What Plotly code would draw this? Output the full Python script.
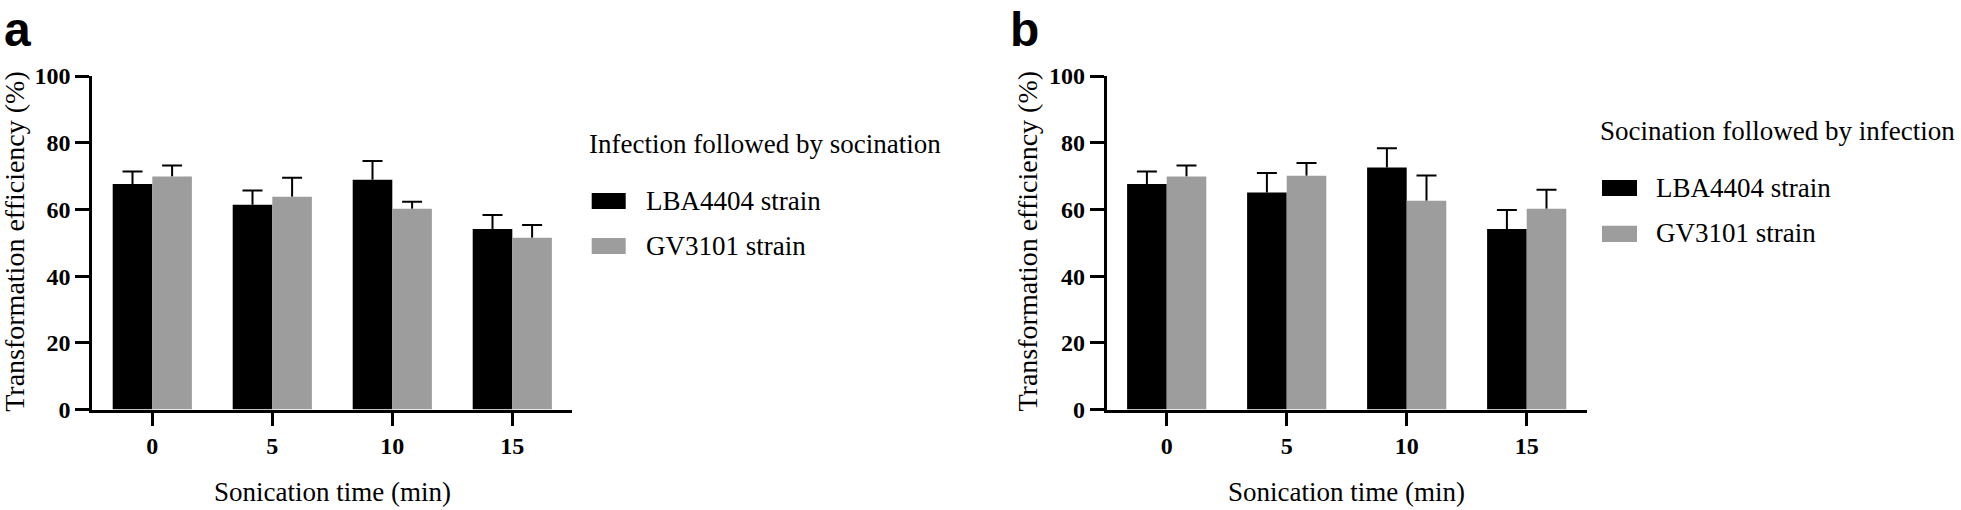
import plotly.graph_objects as go

W, H = 1961, 510

# ---------------- data ----------------
categories = ["0", "5", "10", "15"]
series_names = ["LBA4404 strain", "GV3101 strain"]

a_lba = [67.6, 61.4, 68.9, 54.1]
a_lba_err = [3.8, 4.3, 5.6, 4.2]
a_gv = [69.9, 63.8, 60.2, 51.5]
a_gv_err = [3.3, 5.7, 2.1, 3.8]

b_lba = [67.6, 65.1, 72.6, 54.1]
b_lba_err = [3.8, 5.8, 5.7, 5.7]
b_gv = [69.9, 70.1, 62.6, 60.2]
b_gv_err = [3.3, 3.8, 7.6, 5.7]

y_ticks = [0, 20, 40, 60, 80, 100]

legend_titles = ["Infection followed by socination", "Socination followed by infection"]
panel_labels = ["a", "b"]
x_title = "Sonication time (min)"
y_title = "Transformation efficiency (%)"
colors = ["#000000", "#9d9d9d"]

# ---------------- layout helpers (pixel -> paper) ----------------
def px(x):
    return x / W

def py(y):
    return 1 - y / H

SERIF = "Liberation Serif"
SANS = "Liberation Sans"

panels = [
    dict(xa="x", ya="y", data=[(a_lba, a_lba_err), (a_gv, a_gv_err)],
         x0=92.3, x1=572.3, ytitle_x=14.3, label_x=1.5, label_top=0.5,
         leg=dict(title_x=587, title_y=144, sw_x0=591.7, sw_x1=625.7,
                  sw_y=[(193, 209), (238, 254)], txt_x=644, txt_y=[200.7, 246])),
    dict(xa="x2", ya="y2", data=[(b_lba, b_lba_err), (b_gv, b_gv_err)],
         x0=1106.7, x1=1586.7, ytitle_x=1027, label_x=1007.5, label_top=0.5,
         leg=dict(title_x=1598, title_y=130.7, sw_x0=1602, sw_x1=1637,
                  sw_y=[(180, 196), (225.7, 242)], txt_x=1654, txt_y=[187.7, 233])),
]

fig = go.Figure()

for p in panels:
    for s, (vals, errs) in enumerate(p["data"]):
        # vertical error line (no caps), starting at the bar top
        fig.add_trace(go.Bar(
            x=categories, y=vals, xaxis=p["xa"], yaxis=p["ya"],
            offsetgroup=str(s), marker=dict(color="rgba(0,0,0,0)", line=dict(width=0)),
            error_y=dict(type="data", array=errs, arrayminus=[0] * len(errs), symmetric=False,
                         color="black", thickness=2, width=0),
            hoverinfo="skip", showlegend=False,
        ))
        # cap at the top of the error bar
        tops = [v + e for v, e in zip(vals, errs)]
        fig.add_trace(go.Bar(
            x=categories, y=tops, xaxis=p["xa"], yaxis=p["ya"],
            offsetgroup=str(s), marker=dict(color="rgba(0,0,0,0)", line=dict(width=0)),
            error_y=dict(type="data", array=[0] * len(errs), symmetric=True,
                         color="black", thickness=2, width=10),
            hoverinfo="skip", showlegend=False,
        ))
    for s, (vals, errs) in enumerate(p["data"]):
        fig.add_trace(go.Bar(
            x=categories, y=vals, xaxis=p["xa"], yaxis=p["ya"], name=series_names[s],
            offsetgroup=str(s), marker=dict(color=colors[s], line=dict(width=0)),
            showlegend=False,
        ))

y_dom = [py(409.5), py(76)]
tickfont = dict(family=SERIF, size=24, color="black", weight="bold")

axis_common = dict(showline=True, linecolor="black", linewidth=3, ticks="outside",
                   tickwidth=3, tickcolor="black", tickfont=tickfont,
                   showgrid=False, zeroline=False, fixedrange=True, automargin=False)

layout = dict(
    width=W, height=H, autosize=False,
    margin=dict(l=0, r=0, t=0, b=0, pad=0, autoexpand=False),
    paper_bgcolor="white", plot_bgcolor="white",
    barmode="group", bargap=0.34, bargroupgap=0, showlegend=False,
    font=dict(family=SERIF, color="black"),
)
for i, p in enumerate(panels):
    sfx = "" if i == 0 else str(i + 1)
    layout["xaxis" + sfx] = dict(axis_common, type="category", categoryorder="array",
                                 categoryarray=categories, range=[-0.5, 3.5],
                                 domain=[px(p["x0"]), px(p["x1"])], anchor=p["ya"],
                                 ticklen=13)
    layout["yaxis" + sfx] = dict(axis_common, range=[0, 100], tickvals=y_ticks,
                                 domain=y_dom, anchor=p["xa"], ticklen=14)

fig.update_layout(**layout)

annotations = []
shapes = []
for i, p in enumerate(panels):
    # panel label
    annotations.append(dict(text=panel_labels[i], x=px(p["label_x"]), y=py(p["label_top"]),
                            xref="paper", yref="paper", xanchor="left", yanchor="top",
                            showarrow=False, font=dict(family=SANS, size=48, color="black", weight="bold")))
    # y title
    annotations.append(dict(text=y_title, x=px(p["ytitle_x"]), y=py(241.5), xref="paper", yref="paper",
                            xanchor="center", yanchor="middle", textangle=-90, showarrow=False,
                            font=dict(family=SERIF, size=28, color="black")))
    # x title
    annotations.append(dict(text=x_title, x=px((p["x0"] + p["x1"]) / 2), y=py(491.7),
                            xref="paper", yref="paper", xanchor="center", yanchor="middle",
                            showarrow=False, font=dict(family=SERIF, size=27, color="black")))
    # legend
    lg = p["leg"]
    annotations.append(dict(text=legend_titles[i], x=px(lg["title_x"]), y=py(lg["title_y"]),
                            xref="paper", yref="paper", xanchor="left", yanchor="middle",
                            showarrow=False, font=dict(family=SERIF, size=27, color="black")))
    for s in range(2):
        y0, y1 = lg["sw_y"][s]
        shapes.append(dict(type="rect", xref="paper", yref="paper",
                           x0=px(lg["sw_x0"]), x1=px(lg["sw_x1"]), y0=py(y1), y1=py(y0),
                           fillcolor=colors[s], line=dict(width=0)))
        annotations.append(dict(text=series_names[s], x=px(lg["txt_x"]), y=py(lg["txt_y"][s]),
                                xref="paper", yref="paper", xanchor="left", yanchor="middle",
                                showarrow=False, font=dict(family=SERIF, size=27, color="black")))

fig.update_layout(annotations=annotations, shapes=shapes)

# remove the default page margin so the figure sits at the window's top-left corner
reset_page = ("document.body.style.margin='0';document.body.style.padding='0';"
              "document.documentElement.style.margin='0';document.body.style.overflow='hidden';")

fig.write_html("out.html", config={"displayModeBar": False}, post_script=reset_page)
